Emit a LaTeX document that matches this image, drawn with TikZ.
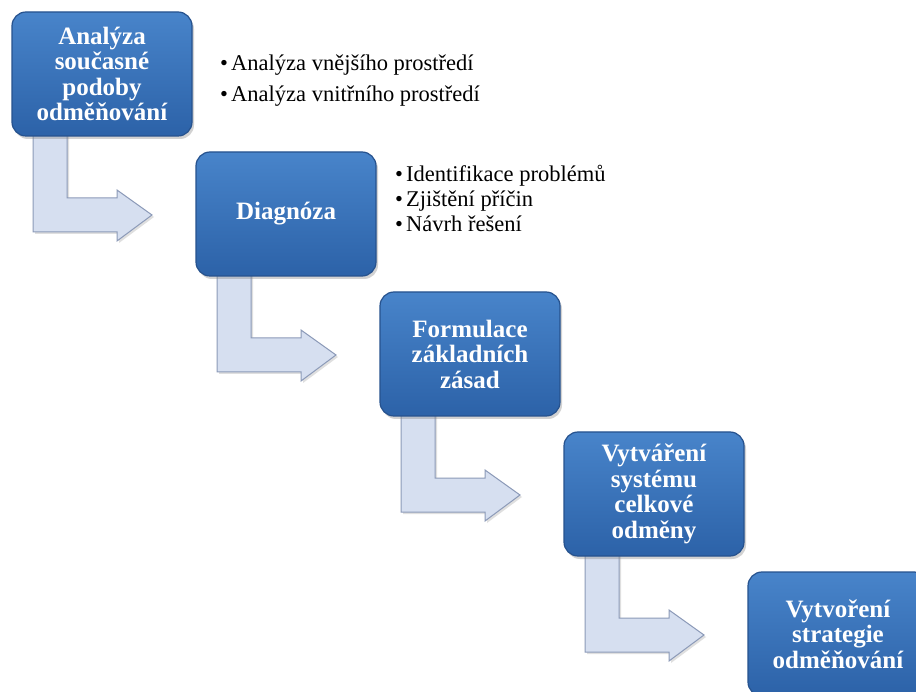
\documentclass[tikz,border=0pt]{standalone}
\usepackage{fontspec}
\setmainfont{Liberation Serif}
\newfontfamily\tnr{Liberation Serif}
\usetikzlibrary{shadows,backgrounds}
\definecolor{boxtop}{RGB}{72,132,202}
\definecolor{boxbot}{RGB}{44,98,168}
\definecolor{boxline}{RGB}{38,82,142}
\definecolor{arrfill}{RGB}{214,223,240}
\definecolor{arrline}{RGB}{140,154,184}
\tikzset{
 stepbox/.style={rounded corners=14pt, minimum width=180pt, minimum height=124pt,
   top color=boxtop, bottom color=boxbot, draw=boxline, line width=1.2pt,
   text=white, align=center, font=\tnr\bfseries\fontsize{25}{25.5}\selectfont, inner sep=0pt,
   drop shadow={opacity=0.35, shadow xshift=2pt, shadow yshift=-3pt}},
 bentarrow/.style={fill=arrfill, draw=arrline, line width=1pt, line join=miter,
   drop shadow={opacity=0.25, shadow xshift=2pt, shadow yshift=-2pt}},
 item/.style={anchor=base west, inner sep=0pt, font=\tnr\fontsize{22.5}{25}\selectfont}
}
\newcommand{\bul}[1]{\makebox[11pt][l]{\textbullet}#1}
\begin{document}
\begin{tikzpicture}[x=1pt,y=-1pt]
\useasboundingbox (0,0) rectangle (916,692);
\clip (0,0) rectangle (916,692);
\node[stepbox] (b1) at (102,74) {Analýza\\současné\\podoby\\odměňování};
\node[stepbox] (b2) at (286,214) {Diagnóza};
\node[stepbox] (b3) at (470,354) {Formulace\\základních\\zásad};
\node[stepbox] (b4) at (654,494) {Vytváření\\systému\\celkové\\odměny};
\node[stepbox] (b5) at (838,634) {Vytvoření\\strategie\\odměňování};
\node[item] (i1) at (220,71) {\bul{Analýza vnějšího prostředí}};
\node[item] (i2) at (220,102) {\bul{Analýza vnitřního prostředí}};
\node[item] (d1) at (395,182) {\bul{Identifikace problémů}};
\node[item] (d2) at (395,207) {\bul{Zjištění příčin}};
\node[item] (d3) at (395,232) {\bul{Návrh řešení}};
\begin{scope}[on background layer]
\fill[white] (0,0) rectangle (916,692);
\foreach \b in {b1,b2,b3,b4}{
  \begin{scope}[shift={(\b.center)}]
    \draw[bentarrow] (-69,50) -- (-35,50) -- (-35,124) -- (15,124) -- (15,116)
      -- (50,141) -- (15,167) -- (15,158) -- (-69,158) -- cycle;
  \end{scope}
}
\end{scope}
\end{tikzpicture}
\end{document}
